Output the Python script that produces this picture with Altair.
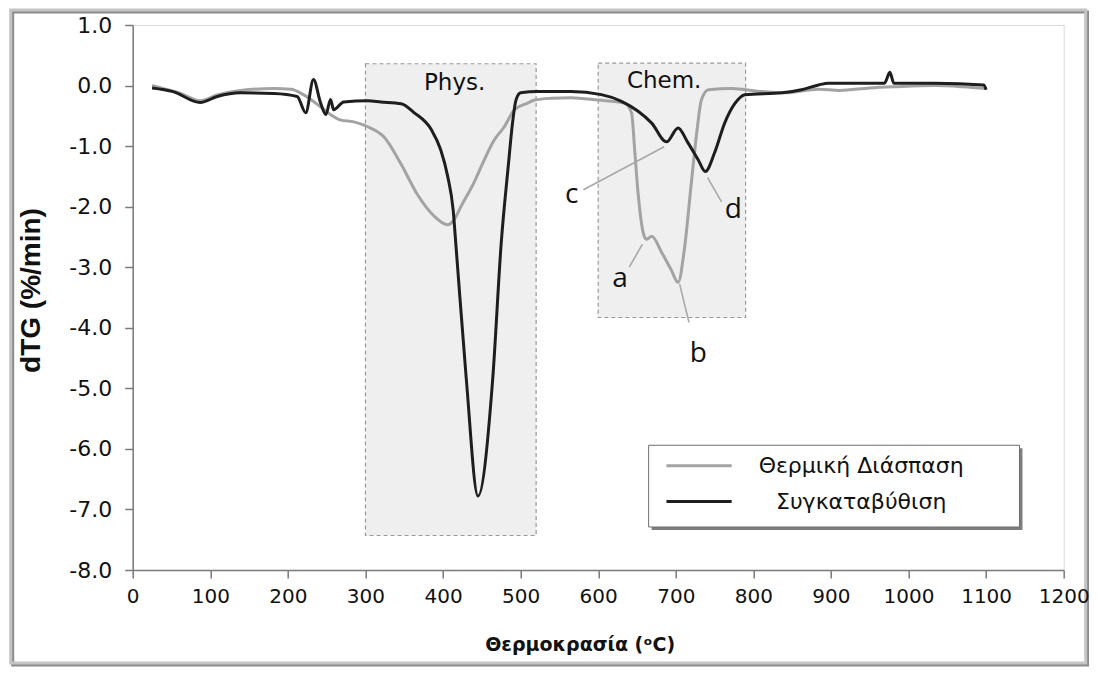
import altair as alt
import pandas as pd

# ---- data ----
gray_x = [25, 40, 60, 87, 110, 139, 182, 204, 220, 242, 255, 268, 285, 303, 324, 346, 367, 388, 406, 414,
          423, 440, 453, 466, 479, 492, 509, 518, 540, 565, 600, 634, 643, 647, 651, 658, 662, 669, 682, 694,
          703, 711, 720, 727, 733, 742, 772, 811, 840, 884, 911, 950, 983, 1034, 1070, 1100]
gray_y = [0.0, -0.05, -0.12, -0.25, -0.15, -0.08, -0.05, -0.06, -0.15, -0.35, -0.48, -0.57, -0.6, -0.68,
          -0.85, -1.3, -1.8, -2.15, -2.3, -2.22, -2.0, -1.6, -1.23, -0.9, -0.68, -0.4, -0.29, -0.24, -0.21,
          -0.2, -0.24, -0.29, -0.45, -1.06, -1.72, -2.43, -2.54, -2.49, -2.76, -3.04, -3.25, -2.71, -1.61,
          -0.78, -0.24, -0.07, -0.05, -0.1, -0.12, -0.06, -0.08, -0.04, -0.02, 0.0, -0.02, -0.05]

black_x = [25, 52, 87, 109, 139, 182, 212, 223, 233, 242, 249, 255, 259, 272, 303, 320, 346, 363, 385, 397,
           406, 413, 417, 430, 445, 464, 475, 484, 490, 494, 500, 522, 565, 604, 630, 651, 669, 688, 703, 715,
           729, 738, 750, 763, 776, 789, 837, 862, 884, 897, 969, 976, 981, 1034, 1097, 1100]
black_y = [-0.04, -0.1, -0.28, -0.18, -0.12, -0.13, -0.18, -0.45, 0.1, -0.28, -0.48, -0.23, -0.4, -0.27,
           -0.25, -0.27, -0.3, -0.45, -0.73, -1.06, -1.5, -2.05, -2.7, -4.85, -6.78, -4.85, -2.6, -1.34,
           -0.57, -0.24, -0.12, -0.1, -0.1, -0.15, -0.26, -0.42, -0.62, -0.93, -0.7, -0.93, -1.23, -1.42,
           -1.11, -0.62, -0.3, -0.15, -0.12, -0.07, 0.01, 0.04, 0.04, 0.22, 0.04, 0.04, 0.01, -0.07]

series_names = ["Θερμική Διάσπαση", "Συγκαταβύθιση"]
series_colors = ["#a3a3a3", "#1e1e1e"]

# shaded regions
box_labels = ["Phys.", "Chem."]
box_x1 = [300, 600]
box_x2 = [520, 790]
box_y1 = [0.36, 0.37]
box_y2 = [-7.43, -3.83]
box_label_x = [415, 685]
box_label_y = [0.04, 0.07]

# peak annotations
ann_labels = ["a", "b", "c", "d"]
ann_text_x = [628, 729, 566, 774]
ann_text_y = [-3.2, -4.44, -1.8, -2.05]
ann_line_x1 = [640, 705, 581, 741]
ann_line_y1 = [-3.0, -3.28, -1.72, -1.52]
ann_line_x2 = [657, 717, 685, 759]
ann_line_y2 = [-2.62, -3.91, -1.01, -1.92]

# legend (drawn inside the plot)
legend_box = [665, 1143, -5.94, -7.29]
legend_line_x = [688, 772]
legend_line_y = [-6.28, -6.87]
legend_text_x = 939

x_ticks = list(range(0, 1201, 100))
y_ticks = [1, 0, -1, -2, -3, -4, -5, -6, -7, -8]

W, H = 931, 545

xs = alt.Scale(domain=[0, 1200], nice=False, zero=False)
ys = alt.Scale(domain=[-8, 1], nice=False, zero=False)

base_x_axis = alt.Axis(values=x_ticks, format="d", title="Θερμοκρασία (ᵒC)", grid=False, zindex=1,
                       labelFont="DejaVu Sans", labelFontSize=20, labelColor="#111111",
                       labelPadding=8, labelFlush=False, labelOverlap=False, labelBound=False,
                       tickSize=8, tickColor="#7a7a7a", domainColor="#7a7a7a",
                       domainWidth=1.5, tickWidth=1.5,
                       titleFont="DejaVu Sans", titleFontSize=19, titleFontWeight="bold",
                       titleColor="#111111", titleX=447, titleY=74, titleBaseline="middle")
base_y_axis = alt.Axis(values=y_ticks, labelExpr="replace(format(datum.value, '.1f'), '\u2212', '-')",
                       title="dTG (%/min)", grid=False, zindex=1,
                       labelFont="DejaVu Sans", labelFontSize=22, labelColor="#111111",
                       labelPadding=13, labelFlush=False, labelOverlap=False,
                       tickSize=8, tickColor="#7a7a7a", domainColor="#7a7a7a",
                       domainWidth=1.5, tickWidth=1.5,
                       titleFont="Liberation Sans", titleFontSize=28, titleFontWeight="bold",
                       titleColor="#111111", titleX=-101, titleY=265, titleAngle=270,
                       titleBaseline="middle")

one = pd.DataFrame({"k": [0]})

# outer frame (decorative)
frame_shadow = alt.Chart(one).mark_rect(fillOpacity=0, stroke="#8c8c8c", strokeWidth=3).encode(
    x=alt.value(-120), x2=alt.value(955), y=alt.value(-13), y2=alt.value(640))
frame = alt.Chart(one).mark_rect(fillOpacity=0, stroke="#c4c4c4", strokeWidth=3).encode(
    x=alt.value(-122), x2=alt.value(953), y=alt.value(-15), y2=alt.value(638))

boxes_df = pd.DataFrame({"label": box_labels, "x1": box_x1, "x2": box_x2, "y1": box_y1, "y2": box_y2,
                         "lx": box_label_x, "ly": box_label_y})
boxes = alt.Chart(boxes_df).mark_rect(fill="#efefef", stroke="#9a9a9a", strokeWidth=1.2,
                                      strokeDash=[4, 3]).encode(
    x=alt.X("x1:Q", scale=xs, axis=base_x_axis), x2="x2:Q",
    y=alt.Y("y1:Q", scale=ys, axis=base_y_axis), y2="y2:Q")
box_text = alt.Chart(boxes_df).mark_text(font="DejaVu Sans", fontSize=23, color="#111111",
                                         baseline="middle").encode(
    x=alt.X("lx:Q", scale=xs), y=alt.Y("ly:Q", scale=ys), text="label:N")

gray_df = pd.DataFrame({"x": gray_x, "y": gray_y})
black_df = pd.DataFrame({"x": black_x, "y": black_y})
gray_line = alt.Chart(gray_df).mark_line(color=series_colors[0], strokeWidth=3, interpolate="monotone").encode(
    x=alt.X("x:Q", scale=xs), y=alt.Y("y:Q", scale=ys))
black_line = alt.Chart(black_df).mark_line(color=series_colors[1], strokeWidth=3, interpolate="monotone").encode(
    x=alt.X("x:Q", scale=xs), y=alt.Y("y:Q", scale=ys))

ann_df = pd.DataFrame({"label": ann_labels, "tx": ann_text_x, "ty": ann_text_y,
                       "x1": ann_line_x1, "y1": ann_line_y1, "x2": ann_line_x2, "y2": ann_line_y2})
ann_lines = alt.Chart(ann_df).mark_rule(color="#a8a8a8", strokeWidth=1.6).encode(
    x=alt.X("x1:Q", scale=xs), y=alt.Y("y1:Q", scale=ys), x2="x2:Q", y2="y2:Q")
ann_text = alt.Chart(ann_df).mark_text(font="Open Sans", fontSize=28, color="#111111",
                                       baseline="middle").encode(
    x=alt.X("tx:Q", scale=xs), y=alt.Y("ty:Q", scale=ys), text="label:N")

leg_box_df = pd.DataFrame({"x1": [legend_box[0]], "x2": [legend_box[1]],
                           "y1": [legend_box[2]], "y2": [legend_box[3]]})
leg_shadow = alt.Chart(leg_box_df).mark_rect(fill="#7d7d7d", xOffset=3, x2Offset=3, yOffset=3, y2Offset=3).encode(
    x=alt.X("x1:Q", scale=xs), x2="x2:Q", y=alt.Y("y1:Q", scale=ys), y2="y2:Q")
leg_rect = alt.Chart(leg_box_df).mark_rect(fill="white", stroke="#6e6e6e", strokeWidth=1).encode(
    x=alt.X("x1:Q", scale=xs), x2="x2:Q", y=alt.Y("y1:Q", scale=ys), y2="y2:Q")

leg_df = pd.DataFrame({"name": series_names, "x1": [legend_line_x[0]] * 2, "x2": [legend_line_x[1]] * 2,
                       "y": legend_line_y, "tx": [legend_text_x] * 2, "color": series_colors})
leg_lines = alt.Chart(leg_df).mark_rule(strokeWidth=3).encode(
    x=alt.X("x1:Q", scale=xs), x2="x2:Q", y=alt.Y("y:Q", scale=ys),
    color=alt.Color("color:N", scale=None))
leg_text = alt.Chart(leg_df).mark_text(font="DejaVu Sans", fontSize=22, color="#111111",
                                       baseline="middle").encode(
    x=alt.X("tx:Q", scale=xs), y=alt.Y("y:Q", scale=ys), text="name:N")

chart = alt.layer(
    frame_shadow, frame, boxes, box_text, gray_line, black_line, ann_lines, ann_text,
    leg_shadow, leg_rect, leg_lines, leg_text
).properties(
    width=W, height=H,
    padding={"left": 124.7, "top": 17, "right": 25.3, "bottom": 97},
    autosize=alt.AutoSizeParams(type="none"),
    background="white",
).configure_view(stroke="#d9d9d9", strokeWidth=1)

chart.save("out.html", embed_options={"renderer": "svg", "actions": False})
